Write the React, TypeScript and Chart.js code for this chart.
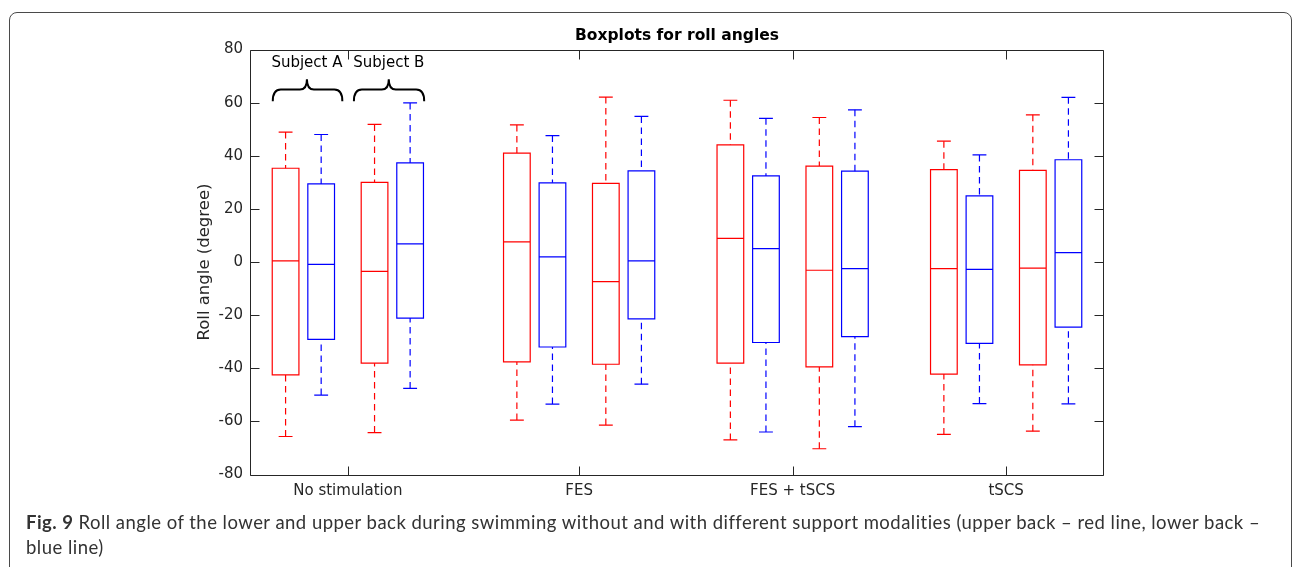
import React, { useEffect, useRef } from 'react';
import { Chart, registerables } from 'chart.js';

Chart.register(...registerables);

// ---- data ----
const CATEGORIES = ['No stimulation', 'FES', 'FES + tSCS', 'tSCS'];
const CATEGORY_X = [5.5, 18.5, 30.5, 42.5];

// upper back (red): subject A, subject B for each category
const UPPER_X = [2, 7, 15, 20, 27, 32, 39, 44];
const UPPER_MAX = [48.9, 51.8, 51.6, 62.1, 60.9, 54.4, 45.5, 55.4];
const UPPER_Q3 = [35.3, 30.0, 41.0, 29.6, 44.1, 36.1, 34.8, 34.5];
const UPPER_MED = [0.4, -3.5, 7.6, -7.4, 8.9, -3.1, -2.5, -2.3];
const UPPER_Q1 = [-42.5, -38.1, -37.6, -38.5, -38.1, -39.5, -42.2, -38.7];
const UPPER_MIN = [-65.7, -64.2, -59.5, -61.4, -67.0, -70.3, -64.9, -63.7];

// lower back (blue): subject A, subject B for each category
const LOWER_X = [4, 9, 17, 22, 29, 34, 41, 46];
const LOWER_MAX = [48.0, 59.9, 47.6, 54.8, 54.1, 57.3, 40.3, 62.0];
const LOWER_Q3 = [29.4, 37.3, 29.8, 34.3, 32.4, 34.2, 24.9, 38.5];
const LOWER_MED = [-0.9, 6.8, 1.9, 0.4, 5.0, -2.5, -2.8, 3.5];
const LOWER_Q1 = [-29.1, -21.1, -32.0, -21.4, -30.3, -28.1, -30.6, -24.5];
const LOWER_MIN = [-50.1, -47.6, -53.5, -46.0, -64.0, -62.0, -53.3, -53.4];

// annotation: subject groups
const SUBJECT_LABELS = ['Subject A', 'Subject B'];
const SUBJECT_LEFT = [1.28, 5.84];
const SUBJECT_RIGHT = [5.19, 9.79];
const SUBJECT_MID = [3.2, 7.8];

const FONT = 'DejaVu Sans';
const TEXT = '#262626';

function boxData(xs: number[], mx: number[], q3: number[], md: number[], q1: number[], mn: number[]) {
  return xs.map((x, i) => ({ x, y: md[i], max: mx[i], q3: q3[i], med: md[i], q1: q1[i], min: mn[i] }));
}

const snap = (v: number) => Math.round(v) + 0.5;

const boxPlugin = {
  id: 'boxes',
  afterDatasetsDraw(chart: any) {
    const { ctx, scales } = chart;
    const xs = scales.x;
    const ys = scales.y;
    const HALF = 0.75;
    const CAP = 0.39;
    ctx.save();
    ctx.lineWidth = 1.2;
    chart.data.datasets.forEach((ds: any) => {
      ctx.strokeStyle = ds.borderColor;
      ds.data.forEach((d: any) => {
        const xc = xs.getPixelForValue(d.x);
        const xl = xs.getPixelForValue(d.x - HALF);
        const xr = xs.getPixelForValue(d.x + HALF);
        const cl = xs.getPixelForValue(d.x - CAP);
        const cr = xs.getPixelForValue(d.x + CAP);
        const yMax = ys.getPixelForValue(d.max);
        const yQ3 = ys.getPixelForValue(d.q3);
        const yMed = ys.getPixelForValue(d.med);
        const yQ1 = ys.getPixelForValue(d.q1);
        const yMin = ys.getPixelForValue(d.min);
        ctx.setLineDash([]);
        ctx.beginPath();
        ctx.rect(xl, yQ3, xr - xl, yQ1 - yQ3);
        ctx.moveTo(xl, yMed);
        ctx.lineTo(xr, yMed);
        ctx.moveTo(cl, yMax);
        ctx.lineTo(cr, yMax);
        ctx.moveTo(cl, yMin);
        ctx.lineTo(cr, yMin);
        ctx.stroke();
        ctx.setLineDash([6.5, 4.5]);
        ctx.beginPath();
        ctx.moveTo(xc, yMax);
        ctx.lineTo(xc, yQ3);
        ctx.moveTo(xc, yMin);
        ctx.lineTo(xc, yQ1);
        ctx.stroke();
      });
    });
    ctx.setLineDash([]);

    // subject braces + labels
    ctx.strokeStyle = '#000';
    ctx.lineWidth = 2;
    const yEnd = ys.getPixelForValue(60.5);
    const yBar = ys.getPixelForValue(64.9);
    const yTip = ys.getPixelForValue(68.8);
    const yText = ys.getPixelForValue(74.8);
    SUBJECT_LABELS.forEach((lab, i) => {
      const l = xs.getPixelForValue(SUBJECT_LEFT[i]);
      const r = xs.getPixelForValue(SUBJECT_RIGHT[i]);
      const m = xs.getPixelForValue(SUBJECT_MID[i]);
      const rr = 8;
      const rt = 7;
      ctx.beginPath();
      ctx.moveTo(l, yEnd);
      ctx.quadraticCurveTo(l, yBar, l + rr, yBar);
      ctx.lineTo(m - rt, yBar);
      ctx.quadraticCurveTo(m, yBar, m, yTip);
      ctx.quadraticCurveTo(m, yBar, m + rt, yBar);
      ctx.lineTo(r - rr, yBar);
      ctx.quadraticCurveTo(r, yBar, r, yEnd);
      ctx.stroke();
      ctx.fillStyle = '#000';
      ctx.font = `15px "${FONT}"`;
      ctx.textAlign = 'center';
      ctx.textBaseline = 'middle';
      ctx.fillText(lab, m, yText);
    });
    ctx.restore();
  },
  afterDraw(chart: any) {
    const { ctx, chartArea: a, scales } = chart;
    const L = snap(a.left), R = snap(a.right - 1), T = snap(a.top), B = snap(a.bottom);
    const TL = 9;
    ctx.save();
    ctx.strokeStyle = TEXT;
    ctx.lineWidth = 1;
    ctx.beginPath();
    ctx.rect(L, T, R - L, B - T);
    scales.y.ticks.forEach((t: any) => {
      const py = snap(scales.y.getPixelForValue(t.value));
      ctx.moveTo(L, py);
      ctx.lineTo(L + TL, py);
      ctx.moveTo(R, py);
      ctx.lineTo(R - TL, py);
    });
    scales.x.ticks.forEach((t: any) => {
      const px = snap(scales.x.getPixelForValue(t.value));
      ctx.moveTo(px, B);
      ctx.lineTo(px, B - TL);
      ctx.moveTo(px, T);
      ctx.lineTo(px, T + TL);
    });
    ctx.stroke();
    ctx.restore();
  },
};

export default function App() {
  const ref = useRef<HTMLCanvasElement>(null);
  useEffect(() => {
    const chart = new Chart(ref.current as HTMLCanvasElement, {
      type: 'scatter',
      data: {
        datasets: [
          {
            label: 'Upper back',
            data: boxData(UPPER_X, UPPER_MAX, UPPER_Q3, UPPER_MED, UPPER_Q1, UPPER_MIN),
            borderColor: '#ff0000',
            backgroundColor: '#ff0000',
            pointRadius: 0,
            showLine: false,
          },
          {
            label: 'Lower back',
            data: boxData(LOWER_X, LOWER_MAX, LOWER_Q3, LOWER_MED, LOWER_Q1, LOWER_MIN),
            borderColor: '#0000ff',
            backgroundColor: '#0000ff',
            pointRadius: 0,
            showLine: false,
          },
        ],
      } as any,
      options: {
        animation: false,
        responsive: false,
        devicePixelRatio: 1,
        events: [],
        layout: { padding: { left: 0, right: 189, top: 0, bottom: 0 } },
        plugins: {
          legend: { display: false },
          tooltip: { enabled: false },
          title: {
            display: true,
            text: 'Boxplots for roll angles',
            color: '#000',
            fullSize: false,
            font: { family: FONT, size: 15.5, weight: 'bold' },
            padding: { top: 26.8, bottom: 4.1 },
          },
        },
        scales: {
          x: {
            type: 'linear',
            min: 0,
            max: 48,
            afterBuildTicks: (s: any) => {
              s.ticks = CATEGORY_X.map((v) => ({ value: v }));
            },
            afterFit: (s: any) => {
              s.height = 567 - 474.5;
            },
            ticks: {
              autoSkip: false,
              maxRotation: 0,
              padding: 7.5,
              color: TEXT,
              font: { family: FONT, size: 15 },
              callback: (_v: any, i: number) => CATEGORIES[i],
            },
            grid: { display: false, drawTicks: false },
            border: { display: false },
          },
          y: {
            type: 'linear',
            min: -80,
            max: 80,
            afterFit: (s: any) => {
              s.width = 250;
            },
            ticks: {
              stepSize: 20,
              padding: 7,
              color: TEXT,
              font: { family: FONT, size: 15 },
            },
            grid: { display: false, drawTicks: false },
            border: { display: false },
            title: {
              display: true,
              text: 'Roll angle (degree)',
              color: TEXT,
              font: { family: FONT, size: 16.5 },
              padding: { top: 195, bottom: 0 },
            },
          },
        },
      } as any,
      plugins: [boxPlugin],
    });
    return () => chart.destroy();
  }, []);

  return (
    <div style={{ position: 'absolute', left: 0, top: 0, width: 1293, height: 567, overflow: 'hidden', background: '#fff' }}>
      <div
        style={{
          position: 'absolute',
          left: 9,
          top: 12,
          width: 1283,
          height: 700,
          border: '1.3px solid #4a4a4a',
          borderRadius: 8,
          boxSizing: 'border-box',
        }}
      />
      <canvas ref={ref} width={1293} height={567} style={{ position: 'absolute', left: 0, top: 0 }} />
      <div
        style={{
          position: 'absolute',
          left: 26,
          top: 510,
          fontFamily: 'Lato',
          fontSize: 18.5,
          letterSpacing: '0.47px',
          lineHeight: '25px',
          color: '#333',
          whiteSpace: 'nowrap',
        }}
      >
        <b>Fig. 9</b> Roll angle of the lower and upper back during swimming without and with different support modalities (upper back – red line, lower back –
        <br />
        blue line)
      </div>
    </div>
  );
}
